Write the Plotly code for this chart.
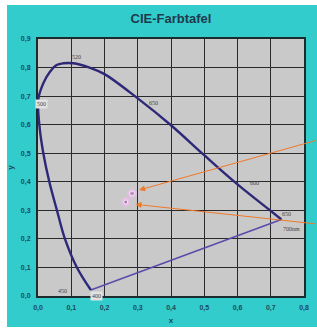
import plotly.graph_objects as go

# Spectral locus, from 400 nm around to 700 nm
locus_x = [0.159, 0.117, 0.081, 0.057, 0.034, 0.016, 0.004, 0.001, 0.016, 0.036, 0.056,
           0.076, 0.106, 0.155, 0.200, 0.300, 0.400, 0.500, 0.600, 0.700, 0.732]
locus_y = [0.021, 0.100, 0.200, 0.300, 0.400, 0.500, 0.600, 0.690, 0.745, 0.785, 0.809,
           0.815, 0.815, 0.800, 0.777, 0.692, 0.598, 0.493, 0.391, 0.298, 0.268]

# Purple line (400 nm -> 700 nm)
purple_x = [0.159, 0.732]
purple_y = [0.021, 0.268]

# Wavelength labels
label_text = ["520", "500", "650", "600", "650", "700nm", "450", "400"]
label_x = [0.117, 0.010, 0.346, 0.650, 0.748, 0.762, 0.073, 0.176]
label_y = [0.837, 0.672, 0.675, 0.395, 0.288, 0.235, 0.018, 0.001]

# Sample points
pts_x = [0.283, 0.264]
pts_y = [0.359, 0.329]

# Arrows (head / tail)
arrow_head_x = [0.304, 0.293]
arrow_head_y = [0.371, 0.321]
arrow_tail_x = [0.84, 0.84]
arrow_tail_y = [0.546, 0.252]

x_ticks = [0.0, 0.1, 0.2, 0.3, 0.4, 0.5, 0.6, 0.7, 0.8]
y_ticks = [0.0, 0.1, 0.2, 0.3, 0.4, 0.5, 0.6, 0.7, 0.8, 0.9]

fig = go.Figure()

fig.add_trace(go.Scatter(x=purple_x, y=purple_y, mode="lines",
                         line=dict(color="#5a4caa", width=1.6), hoverinfo="skip"))
fig.add_trace(go.Scatter(x=locus_x, y=locus_y, mode="lines",
                         line=dict(color="#2e2878", width=2.4, shape="spline", smoothing=1.0),
                         hoverinfo="skip"))
# halo
fig.add_trace(go.Scatter(x=pts_x, y=pts_y, mode="markers",
                         marker=dict(color="rgba(235,190,235,0.7)", size=10), hoverinfo="skip"))
fig.add_trace(go.Scatter(x=pts_x, y=pts_y, mode="markers",
                         marker=dict(color=["#b07ac0", "#9a58a8"], size=[5, 4]), hoverinfo="skip"))

for t, xx, yy in zip(label_text, label_x, label_y):
    fig.add_annotation(x=xx, y=yy, text=t, showarrow=False,
                       font=dict(size=6, color="#444444", family="Liberation Serif"),
                       bgcolor="#e2e2e2" if t in ("400", "500") else None)

for hx, hy, tx, ty in zip(arrow_head_x, arrow_head_y, arrow_tail_x, arrow_tail_y):
    fig.add_annotation(x=hx, y=hy, ax=tx, ay=ty, xref="x", yref="y", axref="x", ayref="y",
                       text="", showarrow=True, arrowhead=2, arrowsize=1.2, arrowwidth=1,
                       arrowcolor="#f07828")

# white strips outside the cyan panel
fig.add_shape(type="rect", xref="paper", yref="paper", x0=-0.2, x1=-0.1165, y0=-0.2, y1=1.3,
              fillcolor="white", line_width=0, layer="above")
fig.add_shape(type="rect", xref="paper", yref="paper", x0=-0.2, x1=1.2, y0=1.132, y1=1.3,
              fillcolor="white", line_width=0, layer="above")
fig.add_shape(type="rect", xref="paper", yref="paper", x0=-0.2, x1=1.2, y0=-0.2, y1=-0.1206,
              fillcolor="white", line_width=0, layer="above")

axis_common = dict(showgrid=True, gridcolor="#2a2a2a", gridwidth=1, zeroline=False,
                   showline=True, linecolor="#1c2c2c", linewidth=2, mirror=True,
                   ticks="", tickformat=".1f", automargin=False,
                   tickfont=dict(size=7, color="#1c4a5a", family="Arial", weight="bold"))

fig.update_layout(
    width=317, height=329,
    margin=dict(l=38, r=13, t=39, b=33, autoexpand=False),
    paper_bgcolor="#33cccc",
    plot_bgcolor="#c9c9c9",
    separators=", ",
    showlegend=False,
    hovermode=False,
    title=dict(text="CIE-Farbtafel", x=0.5, xanchor="center", xref="paper",
               yref="container", y=0.945, yanchor="middle",
               font=dict(size=13, color="#1e3a4c", family="Arial", weight="bold")),
    xaxis=dict(range=[0, 0.8], tickvals=x_ticks, ticklabelstandoff=4,
               title=dict(text="x", standoff=6,
                          font=dict(size=8, color="#1c4a5a", family="Arial", weight="bold")),
               **axis_common),
    yaxis=dict(range=[0, 0.9], tickvals=y_ticks, ticklabelstandoff=4,
               title=dict(text="y", standoff=6,
                          font=dict(size=8, color="#1c4a5a", family="Arial", weight="bold")),
               **axis_common),
)

fig.write_html("out.html", config={"displayModeBar": False},
               post_script="document.body.style.margin='0px';document.body.style.overflow='hidden';")
